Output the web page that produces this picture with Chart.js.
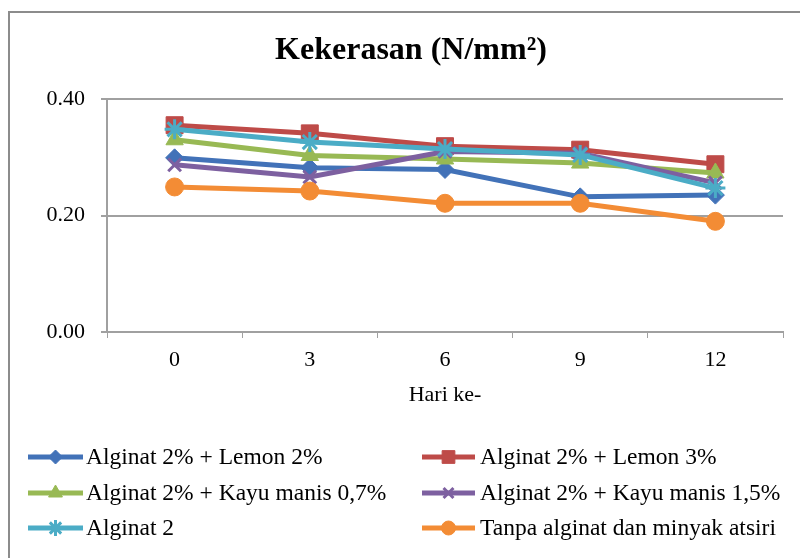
<!DOCTYPE html>
<html>
<head>
<meta charset="utf-8">
<script src="https://cdn.jsdelivr.net/npm/chart.js@4.4.1/dist/chart.umd.min.js"></script>
<style>
  html, body { margin: 0; padding: 0; background: #fff; }
  canvas { display: block; }
</style>
</head>
<body>
<canvas id="hardnessChart" width="800" height="558"></canvas>
<script>
const days = ['0', '3', '6', '9', '12'];
const yTicks = [0, 0.2, 0.4];

const seriesNames = [
    'Alginat 2% + Lemon 2%',
    'Alginat 2% + Lemon 3%',
    'Alginat 2% + Kayu manis 0,7%',
    'Alginat 2% + Kayu manis 1,5%',
    'Alginat 2',
    'Tanpa alginat dan minyak atsiri'
];
const lemon2 = [0.299, 0.282, 0.279, 0.232, 0.235];
const lemon3 = [0.355, 0.341, 0.319, 0.313, 0.288];
const kayu07 = [0.330, 0.303, 0.297, 0.290, 0.273];
const kayu15 = [0.287, 0.266, 0.310, 0.307, 0.256];
const alginat2 = [0.348, 0.326, 0.314, 0.304, 0.247];
const tanpa = [0.249, 0.242, 0.221, 0.221, 0.190];

const seriesValues = [lemon2, lemon3, kayu07, kayu15, alginat2, tanpa];
const colors = ['#4272B8', '#BE4B48', '#98B954', '#7D60A0', '#4BACC6', '#F38C35'];
const markers = ['rectRot', 'rect', 'triangle', 'crossRot', 'star', 'circle'];
const markerSize = [9, 12, 10, 9, 10, 9];
const legendMarkerSize = [7, 9, 8, 7, 8, 7];

const serif = '"Liberation Serif", "Times New Roman", serif';
const gridColor = '#a0a0a0';
const chartTitle = 'Kekerasan (N/mm²)';

// frame round the whole chart (only left and top edges are visible) + title
const framePlugin = {
    id: 'frame',
    beforeDraw(chart) {
        const ctx = chart.ctx;
        ctx.save();
        ctx.strokeStyle = '#8c8c8c';
        ctx.lineWidth = 2;
        ctx.strokeRect(9, 12, 810, 560);
        ctx.fillStyle = '#000';
        ctx.font = 'bold 32px ' + serif;
        ctx.textAlign = 'center';
        ctx.textBaseline = 'middle';
        ctx.fillText(chartTitle, 411, 51);
        ctx.restore();
    }
};

// two column legend under the axis
const legendPlugin = {
    id: 'twoColLegend',
    afterDraw(chart) {
        const ctx = chart.ctx;
        const cols = [{ x0: 28, x1: 83, tx: 86 }, { x0: 422, x1: 475, tx: 480 }];
        const rows = [457, 493, 528];
        ctx.save();
        chart.data.datasets.forEach((ds, i) => {
            const c = cols[i % 2];
            const y = rows[Math.floor(i / 2)];
            ctx.strokeStyle = ds.borderColor;
            ctx.lineWidth = 5;
            ctx.beginPath();
            ctx.moveTo(c.x0, y);
            ctx.lineTo(c.x1, y);
            ctx.stroke();
            ctx.fillStyle = ds.borderColor;
            ctx.strokeStyle = ds.borderColor;
            ctx.lineWidth = ds.pointBorderWidth;
            Chart.helpers.drawPoint(ctx, {
                pointStyle: ds.pointStyle,
                radius: legendMarkerSize[i],
                rotation: 0,
                borderWidth: ds.pointBorderWidth
            }, (c.x0 + c.x1) / 2, y);
            ctx.fillStyle = '#000';
            ctx.font = '23.5px ' + serif;
            ctx.textBaseline = 'middle';
            ctx.textAlign = 'left';
            ctx.fillText(ds.label, c.tx, y + 1);
        });
        ctx.restore();
    }
};

const datasets = seriesNames.map((name, i) => ({
    label: name,
    data: seriesValues[i],
    borderColor: colors[i],
    backgroundColor: colors[i],
    borderWidth: 5,
    pointStyle: markers[i],
    pointRadius: markerSize[i],
    pointHoverRadius: markerSize[i],
    pointBorderWidth: (markers[i] === 'crossRot' || markers[i] === 'star') ? 3 : 1,
    pointBackgroundColor: colors[i],
    pointBorderColor: colors[i],
    tension: 0,
    order: seriesNames.length - 1 - i
}));

new Chart(document.getElementById('hardnessChart'), {
    type: 'line',
    data: { labels: days, datasets: datasets },
    options: {
        responsive: false,
        animation: false,
        layout: { padding: { left: 0, right: 17, top: 99, bottom: 136 } },
        plugins: {
            legend: { display: false },
            tooltip: { enabled: false },
            title: { display: false }
        },
        scales: {
            x: {
                offset: true,
                grid: {
                    offset: true,
                    drawOnChartArea: false,
                    drawTicks: true,
                    tickLength: 6,
                    color: gridColor
                },
                border: { color: gridColor, width: 2 },
                ticks: {
                    color: '#000',
                    padding: 9,
                    font: { family: serif, size: 22 }
                },
                title: {
                    display: true,
                    text: 'Hari ke-',
                    color: '#000',
                    font: { family: serif, size: 22 },
                    padding: { top: 0, bottom: 14 }
                },
                afterFit(scale) { scale.height = 90; }
            },
            y: {
                min: 0,
                max: 0.4,
                afterBuildTicks(scale) { scale.ticks = yTicks.map(v => ({ value: v })); },
                grid: {
                    color: gridColor,
                    lineWidth: 2,
                    drawTicks: true,
                    tickLength: 6
                },
                border: { color: gridColor, width: 2 },
                ticks: {
                    color: '#000',
                    padding: 16,
                    font: { family: serif, size: 22 },
                    callback: v => Number(v).toFixed(2)
                },
                afterFit(scale) { scale.width = 107; }
            }
        }
    },
    plugins: [framePlugin, legendPlugin]
});
</script>
</body>
</html>
